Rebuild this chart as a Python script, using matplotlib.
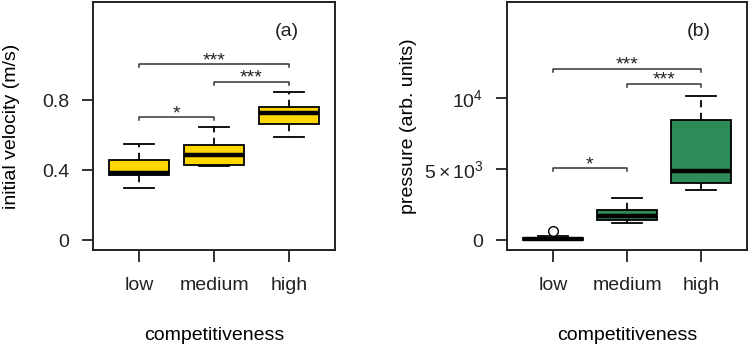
import numpy as np
import matplotlib
matplotlib.use("Agg")
import matplotlib.pyplot as plt

plt.rcParams['font.family'] = ['Liberation Sans', 'DejaVu Sans']
plt.rcParams['mathtext.fontset'] = 'custom'
plt.rcParams['mathtext.rm'] = 'Liberation Sans'
plt.rcParams['mathtext.it'] = 'Liberation Sans'
plt.rcParams['text.color'] = '#222222'

groups = ["low", "medium", "high"]

# panel (a): initial velocity (m/s)
vel_whislo = [0.30, 0.423, 0.589]
vel_q1 = [0.371, 0.429, 0.665]
vel_med = [0.381, 0.486, 0.724]
vel_q3 = [0.455, 0.543, 0.758]
vel_whishi = [0.549, 0.644, 0.846]
vel_fliers = [[], [], []]

# panel (b): pressure (arb. units)
pr_whislo = [0, 1218, 3521]
pr_q1 = [0, 1408, 3990]
pr_med = [60, 1711, 4859]
pr_q3 = [170, 2113, 8451]
pr_whishi = [280, 2937, 10164]
pr_fliers = [[612], [], []]

# significance brackets: (from, to, height, label)
vel_sig = [(1, 3, 1.004, "***"), (2, 3, 0.903, "***"), (1, 2, 0.701, "*")]
pr_sig = [(1, 3, 12042, "***"), (2, 3, 10986, "***"), (1, 2, 5049, "*")]

FS = 14

fig = plt.figure(figsize=(7.5, 3.48), dpi=100)
ax1 = fig.add_axes([0.124, 0.2816, 0.3227, 0.7126])
ax2 = fig.add_axes([0.676, 0.2816, 0.32, 0.7126])


def make_stats(lo, q1, med, q3, hi, fl):
    out = []
    for i in range(len(lo)):
        out.append(dict(whislo=lo[i], q1=q1[i], med=med[i], q3=q3[i],
                        whishi=hi[i], fliers=fl[i]))
    return out


def draw(ax, stats, color, sig, ylim, step):
    ax.bxp(stats, positions=[1, 2, 3], widths=0.8, patch_artist=True,
           boxprops=dict(facecolor=color, edgecolor='black', linewidth=1.3),
           medianprops=dict(color='black', linewidth=3.2),
           whiskerprops=dict(color='black', linewidth=1.3, linestyle=(0, (4, 3))),
           capprops=dict(color='black', linewidth=1.3),
           flierprops=dict(marker='o', markerfacecolor='white',
                           markeredgecolor='black', markersize=7),
           capwidths=0.4)
    for a, b, h, lab in sig:
        ax.plot([a, a, b, b], [h - step, h, h, h - step], color='#333333', lw=1.1)
        ax.annotate(lab, xy=((a + b) / 2, h), xytext=(0, -0.6),
                    textcoords='offset points', ha='center', va='baseline',
                    fontsize=FS, color='#222222')
    ax.set_xlim(0.38, 3.62)
    ax.set_ylim(*ylim)
    ax.set_xticks([1, 2, 3])
    ax.set_xticklabels(groups)
    for s in ax.spines.values():
        s.set_linewidth(1.4)
        s.set_color('#222222')
    ax.tick_params(axis='x', length=8.5, width=1.3, pad=11, labelsize=FS,
                   colors='#222222')
    ax.tick_params(axis='y', length=8, width=1.3, pad=9, labelsize=FS,
                   colors='#222222')
    ax.set_xlabel("competitiveness", fontsize=FS)
    ax.xaxis.set_label_coords(0.5, -0.343)
    ax.xaxis.label.set_va('center')


draw(ax1, make_stats(vel_whislo, vel_q1, vel_med, vel_q3, vel_whishi, vel_fliers),
     '#FFD700', vel_sig, (-0.057, 1.36), 0.018)
ax1.set_yticks([0, 0.4, 0.8])
ax1.set_yticklabels(["0", "0.4", "0.8"])
ax1.set_ylabel("initial velocity (m/s)", fontsize=FS)
ax1.yaxis.set_label_coords(-0.335, 0.5)
ax1.yaxis.label.set_va('center')
ax1.text(0.8, 0.88, "(a)", transform=ax1.transAxes, fontsize=FS,
         ha='center', va='center')

draw(ax2, make_stats(pr_whislo, pr_q1, pr_med, pr_q3, pr_whishi, pr_fliers),
     '#2E8B57', pr_sig, (-704, 16760), 200)
ax2.set_yticks([0, 5000, 10000])
ax2.set_yticklabels(["0", r"$5\times10^3$", r"$10^4$"])
ax2.set_ylabel("pressure (arb. units)", fontsize=FS)
ax2.yaxis.set_label_coords(-0.41, 0.5)
ax2.yaxis.label.set_va('center')
ax2.text(0.8, 0.88, "(b)", transform=ax2.transAxes, fontsize=FS,
         ha='center', va='center')

fig.savefig("out.png", dpi=100)
